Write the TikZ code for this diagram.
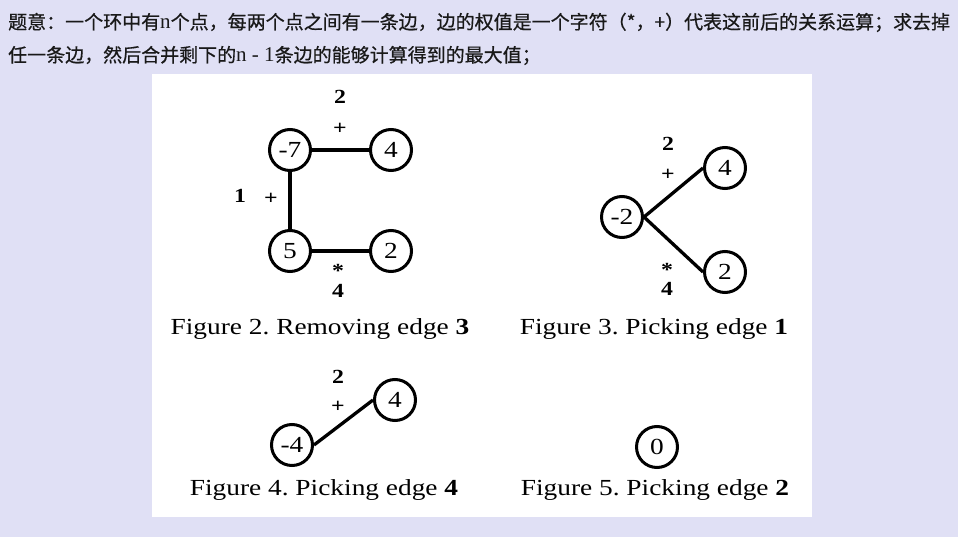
\documentclass[tikz,border=0pt]{standalone}
\usepackage{fontspec}
\setmainfont{Liberation Serif}
\newfontfamily\figfont[FakeStretch=1.19]{Liberation Serif}
\newfontfamily\cjk[FakeBold=0.6]{Noto Sans CJK SC}
\usetikzlibrary{positioning}
\definecolor{bgpage}{RGB}{224,224,245}
\definecolor{txtdark}{RGB}{25,25,25}
\frenchspacing
\newcommand{\latinpart}[1]{{\rmfamily\fontsize{21}{21}\selectfont #1}}

\begin{document}
\begin{tikzpicture}[x=1pt, y=-1pt,
    vtx/.style={draw, circle, line width=3pt, minimum size=41pt, inner sep=0pt,
                font=\figfont\fontsize{23}{23}\selectfont},
    link/.style={line width=3.3pt},
    wt/.style={inner sep=0.5pt, font=\figfont\bfseries\fontsize{20}{20}\selectfont},
    op/.style={inner sep=0.5pt, font=\figfont\bfseries\fontsize{20}{20}\selectfont},
    figcap/.style={anchor=base, font=\figfont\fontsize{23}{23}\selectfont},
    intro/.style={anchor=base west, inner sep=0pt, text=txtdark,
                  font=\cjk\fontsize{19}{19}\selectfont}]
    \fill[bgpage] (0,0) rectangle (958,537);
    \fill[white] (152,74) rectangle (812,517);
    \node[intro] (line1) at (8,29) {题意：一个环中有\latinpart{n}个点，每两个点之间有一条边，边的权值是一个字符（*，+）代表这前后的关系运算；求去掉};
    \node[intro] (line2) at (8,62) {任一条边，然后合并剩下的\latinpart{n - 1}条边的能够计算得到的最大值；};
    % Figure 2
    \node[vtx] (a1) at (290,150) {-7};
    \node[vtx] (a2) at (391,150) {4};
    \node[vtx] (a3) at (290,251) {5};
    \node[vtx] (a4) at (391,251) {2};
    \draw[link] (a1) -- (a2);
    \draw[link] (a1) -- (a3);
    \draw[link] (a3) -- (a4);
    \node[wt] (w12) at (340,97) {2};
    \node[op] (o12) at (340,129) {+};
    \node[wt] (w13) at (240,196) {1};
    \node[op] (o13) at (271,199) {+};
    \node[op] (o34) at (338,271) {*};
    \node[wt] (w34) at (338,291) {4};
    \node[figcap] (cap2) at (320,334) {Figure 2. Removing edge \textbf{3}};
    % Figure 3
    \node[vtx] (b1) at (622,217) {-2};
    \node[vtx] (b2) at (725,168) {4};
    \node[vtx] (b3) at (725,272) {2};
    \draw[link] (b1.east) -- (b2.west);
    \draw[link] (b1.east) -- (b3.west);
    \node[wt] (w2) at (668,144) {2};
    \node[op] (o2) at (668,175) {+};
    \node[op] (o3) at (667,270) {*};
    \node[wt] (w3) at (667,289) {4};
    \node[figcap] (cap3) at (654,334) {Figure 3. Picking edge \textbf{1}};
    % Figure 4
    \node[vtx] (c1) at (292,445) {-4};
    \node[vtx] (c2) at (395,400) {4};
    \draw[link] (c1.east) -- (c2.west);
    \node[wt] (w4) at (338,377) {2};
    \node[op] (o4) at (338,407) {+};
    \node[figcap] (cap4) at (324,495) {Figure 4. Picking edge \textbf{4}};
    % Figure 5
    \node[vtx] (d1) at (657,447) {0};
    \node[figcap] (cap5) at (655,495) {Figure 5. Picking edge \textbf{2}};
\end{tikzpicture}
\end{document}
